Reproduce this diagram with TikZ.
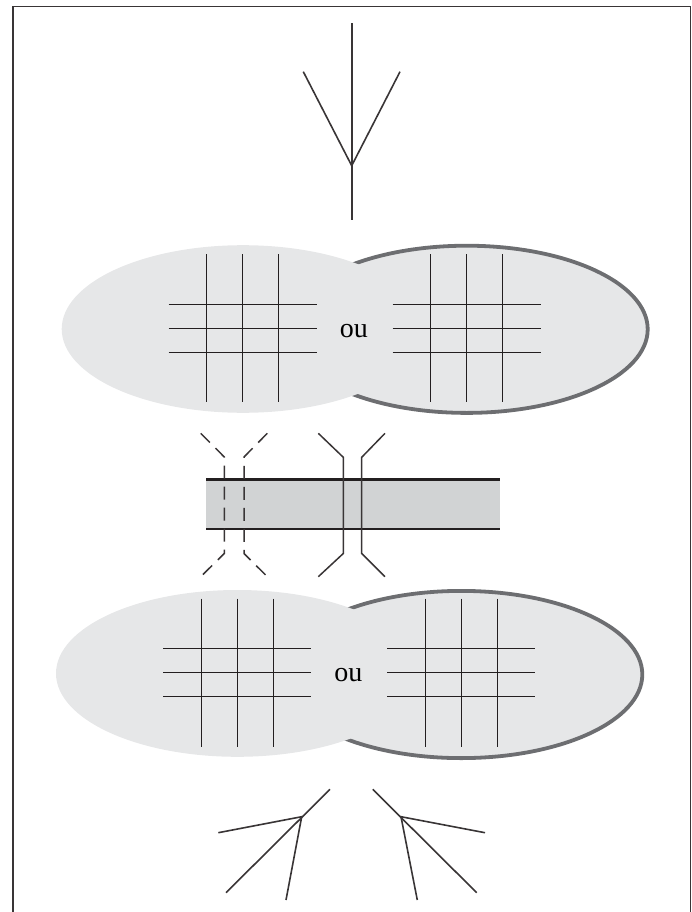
\documentclass[tikz,border=0pt]{standalone}
\usepackage{fontspec}
\setmainfont{Liberation Serif}
\definecolor{blobfill}{HTML}{E6E7E8}
\definecolor{blobline}{HTML}{6D6E71}
\definecolor{barfill}{HTML}{D1D3D4}
\definecolor{ink}{HTML}{231F20}
\tikzset{
  frameline/.style={draw=ink!90, line width=1.6pt},
  branch/.style={draw=ink!90, line width=1.6pt},
  gridline/.style={draw=ink, line width=1.4pt},
  outerblob/.style={fill=blobfill, draw=blobline, line width=3.8pt},
  innerblob/.style={fill=blobfill},
  barline/.style={draw=ink, line width=2.6pt},
  canal/.style={draw=ink!90, line width=1.5pt},
  dashcanal/.style={canal, dash pattern=on 13pt off 8pt},
  orlabel/.style={inner sep=0pt, font=\fontsize{28}{28}\selectfont}
}
% a 3x3 crossing of lines centred at #1
\newcommand{\crossgrid}[2]{%
  \foreach \dx in {-36,0,36} {\draw[gridline] (#1+\dx,#2-74) -- (#1+\dx,#2+74);}
  \foreach \dy in {-24,0,24} {\draw[gridline] (#1-74,#2+\dy) -- (#1+74,#2+\dy);}
}
\begin{document}
\begin{tikzpicture}[x=1pt,y=-1pt]
\useasboundingbox (0,0) rectangle (692,912);
% outer frame
\draw[frameline] (12.7,930) -- (12.7,6.7) -- (690.5,6.7) -- (690.5,930);

% tree at the top
\coordinate (tt) at (351.7,23.3);
\coordinate (tj) at (351.7,165.7);
\coordinate (tb) at (351.7,220);
\coordinate (tl) at (303.3,71.7);
\coordinate (tr) at (400,71.7);
\draw[branch] (tt) -- (tb);
\draw[branch] (tl) -- (tj) -- (tr);

% upper pair of regions
\path[outerblob] (466.7,329.3) ellipse [x radius=181, y radius=83.6];
\path[innerblob] (243,329) ellipse [x radius=181.3, y radius=83.8];
\crossgrid{242.7}{328.3}
\crossgrid{466.7}{328.3}
\node[orlabel] (ou1) at (353.8,330.6) {ou};

% band with crossing channels
\fill[barfill] (206,479.3) rectangle (500,529);
\draw[barline] (206,479.3) -- (500,479.3);
\draw[barline] (206,529) -- (500,529);
\draw[dashcanal] (200.7,433.3) -- (224.3,457) -- (224.3,553.5) -- (200.7,576.7);
\draw[dashcanal] (267.3,433.3) -- (244,457) -- (244,553.5) -- (267.3,576.7);
\draw[canal] (318.3,433.3) -- (343.3,457.3) -- (343.3,553.5) -- (318.3,576.7);
\draw[canal] (385,433.3) -- (361.7,457.3) -- (361.7,553.5) -- (385,576.7);

% lower pair of regions
\path[outerblob] (461.3,674.5) ellipse [x radius=181, y radius=83.6];
\path[innerblob] (237.3,673.4) ellipse [x radius=181.3, y radius=83.4];
\crossgrid{237.3}{672.7}
\crossgrid{461.3}{672.7}
\node[orlabel] (ou2) at (348.4,675) {ou};

% branching roots at the bottom
\coordinate (la) at (330,789.3);
\coordinate (lj) at (301.7,816.7);
\coordinate (lw) at (218.3,832.7);
\coordinate (ld) at (226,892.7);
\coordinate (ls) at (286,900);
\draw[branch] (la) -- (ld);
\draw[branch] (lw) -- (lj) -- (ls);
\coordinate (ra) at (372.7,789.3);
\coordinate (rj) at (401,816.7);
\coordinate (re) at (485,832.7);
\coordinate (rd) at (476.7,892.7);
\coordinate (rs) at (417.3,900);
\draw[branch] (ra) -- (rd);
\draw[branch] (re) -- (rj) -- (rs);
\end{tikzpicture}
\end{document}
